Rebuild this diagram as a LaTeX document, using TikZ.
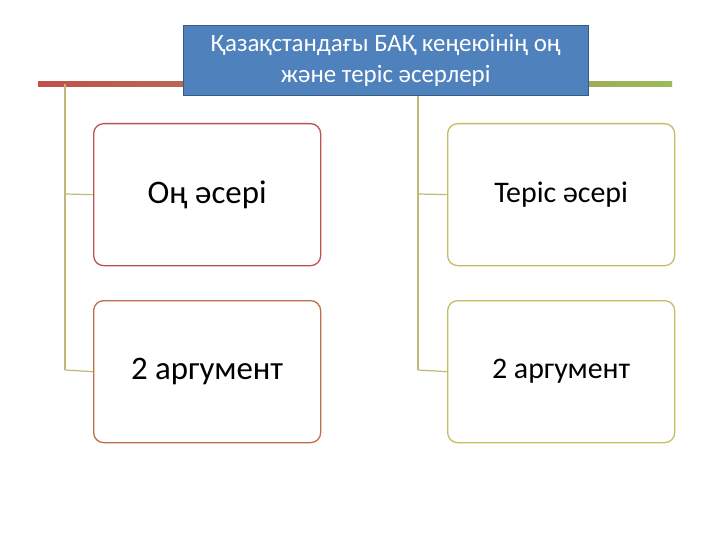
\documentclass[tikz,border=0pt]{standalone}
\usepackage{fontspec}
\setmainfont{Carlito}
\begin{document}
\begin{tikzpicture}[x=1bp,y=-1bp,
  card/.style={draw,line width=1.3bp,rounded corners=10bp,fill=white,minimum width=227bp,minimum height=142bp,anchor=north west,inner sep=0},
  conn/.style={draw=cline,line width=1.2bp}]
\useasboundingbox (0,0) rectangle (720,540);
\definecolor{titleblue}{RGB}{79,129,189}
\definecolor{cred}{RGB}{192,80,77}
\definecolor{cgreen}{RGB}{155,187,89}
\definecolor{colive}{RGB}{196,189,100}
\definecolor{cbrown}{RGB}{190,110,70}
\definecolor{cline}{RGB}{190,185,120}
\shade[left color=cred,right color=cgreen] (38,82) rectangle (672,87);
\coordinate (lv) at (65,84);
\coordinate (lb) at (65,370);
\coordinate (rv) at (418,95);
\coordinate (rb) at (418,370);
\draw[conn] (lv) -- (lb);
\draw[conn] (rv) -- (rb);
\node[card,draw=cred] (a) at (93,123) {};
\node[card,draw=cbrown] (b) at (93,300) {};
\node[card,draw=colive] (c) at (447,123) {};
\node[card,draw=colive] (d) at (447,300) {};
\draw[conn] (65,194) -- (a.west);
\draw[conn] (65,370) -- (b.west);
\draw[conn] (418,194) -- (c.west);
\draw[conn] (418,370) -- (d.west);
\node[font=\fontsize{33}{36}\selectfont] at (a.center) {Оң әсері};
\node[font=\fontsize{30}{34}\selectfont] at (c.center) {Теріс әсері};
\node[font=\fontsize{33}{36}\selectfont] at (b.center) {2 аргумент};
\node[font=\fontsize{30}{34}\selectfont] at (d.center) {2 аргумент};
\node[fill=titleblue,draw=titleblue!70!black,minimum width=405bp,minimum height=70bp,anchor=north west,inner sep=0,text=white,align=center,font=\fontsize{25}{31}\selectfont] (t) at (183,25) {Қазақстандағы БАҚ кеңеюінің оң\\ және теріс әсерлері};
\end{tikzpicture}
\end{document}
